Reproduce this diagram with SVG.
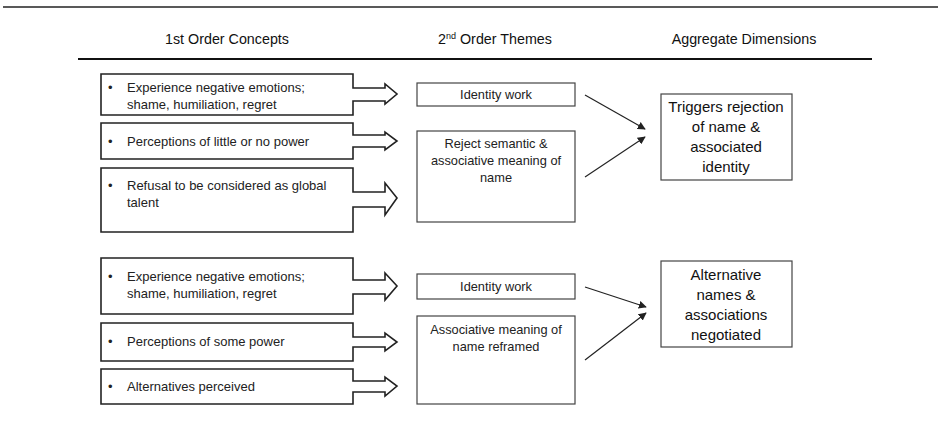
<svg xmlns="http://www.w3.org/2000/svg" width="938" height="426" viewBox="0 0 938 426">
<defs>
<marker id="ah" viewBox="0 0 10 10" refX="9" refY="5" markerWidth="8" markerHeight="8" markerUnits="userSpaceOnUse" orient="auto">
<path d="M0,0 L10,5 L0,10 Z" fill="#222"/>
</marker>
<style>
.blk{fill:#fff;stroke:#222;stroke-width:1.6}
.box{fill:#fff;stroke:#444;stroke-width:1.2}
.t{font-family:"Liberation Sans",Arial,sans-serif;font-size:13px;fill:#222}
.h{font-family:"Liberation Sans",Arial,sans-serif;font-size:14.3px;fill:#111}
.m{font-family:"Liberation Sans",Arial,sans-serif;font-size:12.8px;fill:#222;text-anchor:middle}
.a{font-family:"Liberation Sans",Arial,sans-serif;font-size:15px;fill:#111;text-anchor:middle}
.c{stroke:#222;stroke-width:1.2;fill:none;marker-end:url(#ah)}
</style>
</defs>
<rect width="938" height="426" fill="#fff"/>
<line x1="3" y1="7" x2="938" y2="7" stroke="#222" stroke-width="1.5"/>
<g id="headers">
<text class="h" x="227" y="44" text-anchor="middle">1st Order Concepts</text>
<text class="h" x="495" y="44" text-anchor="middle">2<tspan font-size="9" dy="-5">nd</tspan><tspan dy="5"> Order Themes</tspan></text>
<text class="h" x="744" y="44" text-anchor="middle">Aggregate Dimensions</text>
</g>
<line x1="78" y1="59" x2="872" y2="59" stroke="#111" stroke-width="2.2"/>

<g id="c1a">
<path class="blk" d="M101,74 H353 V88 H385 V84 L397,94 L385,104 V101 H353 V115 H101 Z"/>
<text class="t" x="108" y="92">•</text>
<text class="t" x="127" y="92">Experience negative emotions;</text>
<text class="t" x="127" y="109">shame, humiliation, regret</text>
</g>
<g id="c1b">
<path class="blk" d="M101,123 H353 V135 H385 V132 L397,141 L385,150 V147 H353 V159 H101 Z"/>
<text class="t" x="108" y="146">•</text>
<text class="t" x="127" y="146">Perceptions of little or no power</text>
</g>
<g id="c1c">
<path class="blk" d="M101,168 H353 V192 H385 V183 L397,198 L385,215 V207 H353 V232 H101 Z"/>
<text class="t" x="108" y="190">•</text>
<text class="t" x="127" y="190">Refusal to be considered as global</text>
<text class="t" x="127" y="207">talent</text>
</g>
<g id="t1a">
<rect class="box" x="417" y="83" width="158" height="23"/>
<text class="m" x="496" y="99">Identity work</text>
</g>
<g id="t1b">
<rect class="box" x="417" y="131" width="158" height="91"/>
<text class="m" x="496" y="148">Reject semantic &amp;</text>
<text class="m" x="496" y="165">associative meaning of</text>
<text class="m" x="496" y="182">name</text>
</g>
<g id="d1">
<rect class="box" x="661" y="94" width="131" height="86"/>
<text class="a" x="726" y="112">Triggers rejection</text>
<text class="a" x="726" y="132">of name &amp;</text>
<text class="a" x="726" y="152">associated</text>
<text class="a" x="726" y="172">identity</text>
</g>

<g id="c2a">
<path class="blk" d="M101,258 H353 V280 H385 V273 L397,286 L385,300 V294 H353 V314 H101 Z"/>
<text class="t" x="108" y="281">•</text>
<text class="t" x="127" y="281">Experience negative emotions;</text>
<text class="t" x="127" y="298">shame, humiliation, regret</text>
</g>
<g id="c2b">
<path class="blk" d="M101,323 H353 V337 H385 V333 L397,342 L385,351 V347 H353 V361 H101 Z"/>
<text class="t" x="108" y="346">•</text>
<text class="t" x="127" y="346">Perceptions of some power</text>
</g>
<g id="c2c">
<path class="blk" d="M101,369 H353 V381 H385 V377 L397,386 L385,396 V392 H353 V404 H101 Z"/>
<text class="t" x="108" y="391">•</text>
<text class="t" x="127" y="391">Alternatives perceived</text>
</g>
<g id="t2a">
<rect class="box" x="417" y="274" width="158" height="25"/>
<text class="m" x="496" y="291">Identity work</text>
</g>
<g id="t2b">
<rect class="box" x="417" y="316" width="158" height="88"/>
<text class="m" x="496" y="334">Associative meaning of</text>
<text class="m" x="496" y="351">name reframed</text>
</g>
<g id="d2">
<rect class="box" x="661" y="261" width="131" height="86"/>
<text class="a" x="726" y="280">Alternative</text>
<text class="a" x="726" y="300">names &amp;</text>
<text class="a" x="726" y="320">associations</text>
<text class="a" x="726" y="340">negotiated</text>
</g>

<g id="connectors">
<line class="c" x1="585" y1="95" x2="645" y2="129"/>
<line class="c" x1="585" y1="177" x2="645" y2="137"/>
<line class="c" x1="585" y1="287" x2="646" y2="307"/>
<line class="c" x1="585" y1="360" x2="646" y2="313"/>
</g>
</svg>
